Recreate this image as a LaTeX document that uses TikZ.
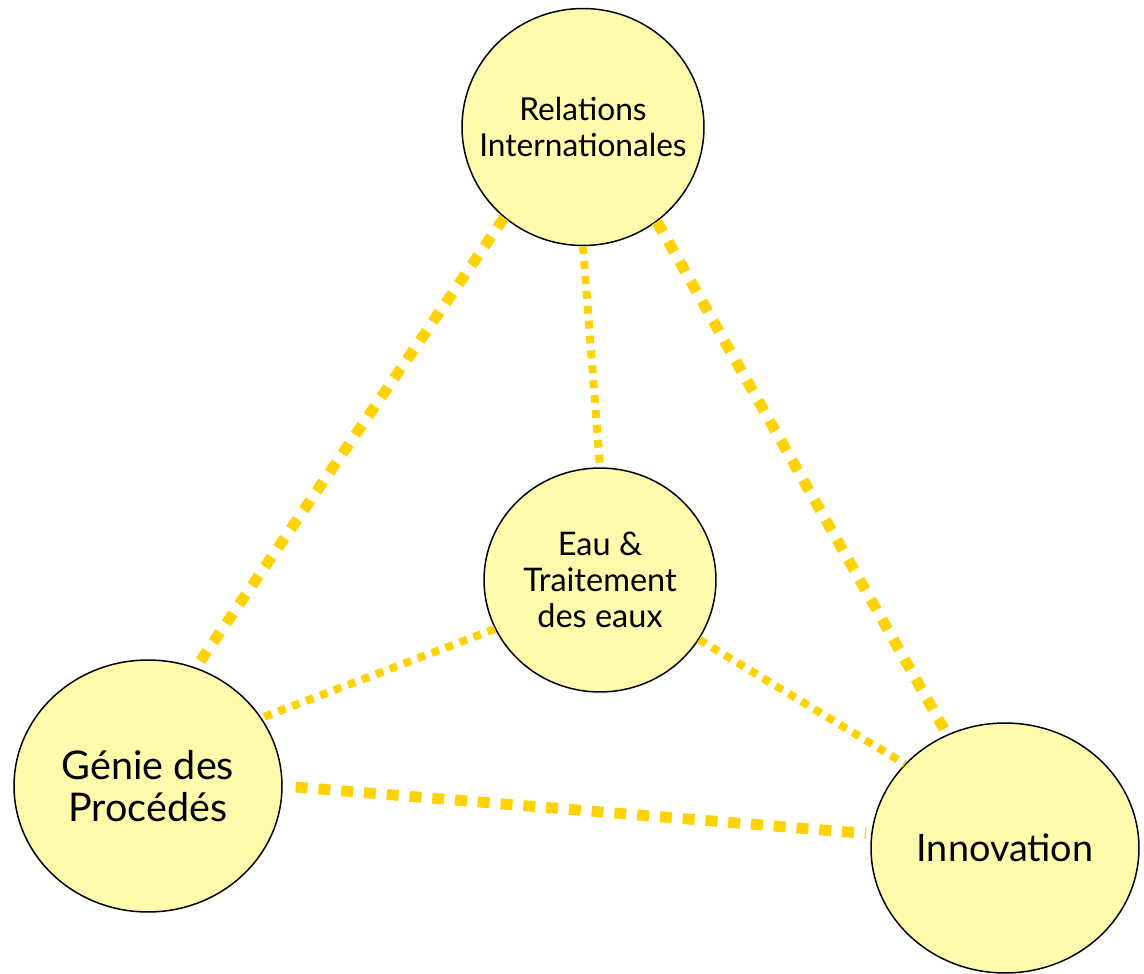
\documentclass[tikz,border=0pt]{standalone}
\usepackage{fontspec}
\setmainfont{Lato}
\usetikzlibrary{shapes.geometric}

\definecolor{bulle}{RGB}{255,251,172}
\definecolor{lien}{RGB}{255,210,0}

\tikzset{
  pole/.style={ellipse, draw=black, line width=0.85pt, fill=bulle,
    inner sep=0pt},
  titre/.style 2 args={align=center, text=black, font=\fontsize{#1}{#2}\selectfont},
  fort/.style={draw=lien, line width=6.2pt, dash pattern=on 6.8pt off 6.2pt},
  faible/.style={draw=lien, line width=4.5pt, dash pattern=on 4.5pt off 4pt}
}

\begin{document}
\begin{tikzpicture}[x=0.02cm,y=-0.02cm]
\useasboundingbox (0,0) rectangle (1144,974);

% Poles (text set as a centre label so the ellipse keeps its size)
\node[pole, minimum width=4.84cm, minimum height=4.74cm,
  label={[titre={18}{20.5}]center:Relations\\Internationales}] (ri) at (583,127) {};
\node[pole, minimum width=4.64cm, minimum height=4.48cm,
  label={[titre={18.5}{20.5}]center:Eau \&\\Traitement\\des eaux}] (eau) at (600,580) {};
\node[pole, minimum width=5.36cm, minimum height=5.04cm,
  label={[titre={22.5}{24}]center:G\'enie des\\Proc\'ed\'es}] (gp) at (148,786) {};
\node[pole, minimum width=5.36cm, minimum height=5.0cm,
  label={[titre={21.5}{25}]center:Innovation}] (inno) at (1005,848) {};

% Strong links
\draw[fort] (ri.229) -- (gp.68);
\draw[fort] (ri.308) -- (inno.117);
\draw[fort, shorten <=0.26cm, shorten >=0.1cm] (gp.0) -- (inno.174);

% Weak links to the centre
\draw[faible] (ri.270) -- (eau.90);
\draw[faible] (eau.205) -- (gp.31);
\draw[faible] (eau.329) -- (inno.140);

\end{tikzpicture}
\end{document}
